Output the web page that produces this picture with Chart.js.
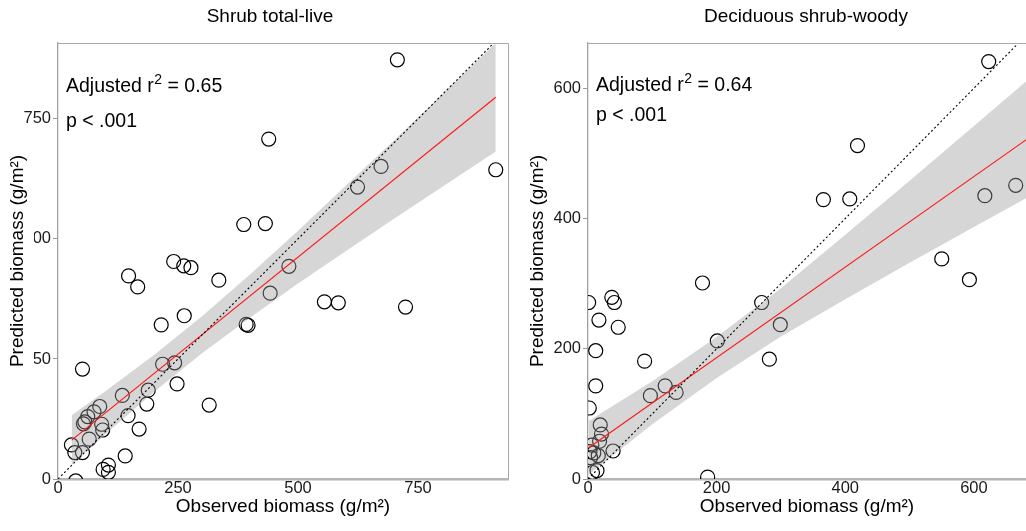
<!DOCTYPE html>
<html><head><meta charset="utf-8">
<script src="https://cdn.jsdelivr.net/npm/chart.js@4.4.1/dist/chart.umd.min.js"></script>
<style>
html,body{margin:0;padding:0;background:#fff;overflow:hidden;width:1026px;height:531px;}
#w1{position:absolute;left:0;top:0;width:520px;height:531px;}
#w2{position:absolute;left:520px;top:0;width:520px;height:531px;}
canvas{display:block;}
</style></head><body>
<div id="w1"><canvas id="c1" width="520" height="531"></canvas></div>
<div id="w2"><canvas id="c2" width="520" height="531"></canvas></div>
<script>
// ---------- Panel 1: Shrub total-live ----------
const shrubTitle = 'Shrub total-live';
const shrubObserved = [707,439,673,624,912,387,432,481,442,555,584,724,392,396,241,262,277,335,147,166,263,215,218,243,248,188,185,315,134,146,169,140,51,87,75,62,56,53,91,93,65,28,35,51,94,105,105,37];
const shrubPredicted = [873,708,651,608,644,530,532,443,387,369,367,358,322,320,453,444,440,414,423,400,340,321,239,242,198,185,156,154,174,132,104,48,229,151,140,130,119,115,114,102,83,71,55,55,20,29,14,-4];
const shrubFitX = [28.5, 912];
const shrubFitY = [81, 795];
const shrubBandX = [28.5, 100, 200, 300, 400, 500, 600, 700, 800, 912];
const shrubBandLower = [29, 94, 181, 262, 336, 407, 475, 542, 608, 682];
const shrubBandUpper = [133, 184, 258, 339, 426, 517, 611, 705, 801, 908];
const shrubXTicks = [0, 250, 500, 750];
const shrubYTicks = [0, 250, 500, 750];
const shrubR2 = '0.65';

// ---------- Panel 2: Deciduous shrub-woody ----------
const decidTitle = 'Deciduous shrub-woody';
const decidObserved = [623,419,366,407,617,665,550,593,178,270,299,282,1,37,41,17,47,12,88,201,12,2,120,97,137,19,21,18,6,3,9,16,4,39,14,7,186];
const decidPredicted = [641,512,429,430,435,451,338,306,301,271,237,184,271,279,271,244,233,197,181,212,143,109,143,128,133,83,69,58,52,42,40,36,33,43,13,10,3];
const decidFitX = [1, 690];
const decidFitY = [48, 527];
const decidBandX = [1, 100, 200, 300, 400, 500, 600, 690];
const decidBandLower = [7, 84, 155, 219, 276, 332, 387, 436];
const decidBandUpper = [89, 150, 218, 293, 375, 458, 542, 618];
const decidXTicks = [0, 200, 400, 600];
const decidYTicks = [0, 200, 400, 600];
const decidR2 = '0.64';

const oneToOne = [0, 1000];
const pText = 'p < .001';
const xTitle = 'Observed biomass (g/m²)';
const yTitle = 'Predicted biomass (g/m²)';

const FONT = "'Liberation Sans', Arial, Helvetica, sans-serif";
Chart.defaults.font.family = FONT;

const pts = (xs, ys) => xs.map((x, i) => ({x: x, y: ys[i]}));

const panelBorder = {
  id: 'panelBorder',
  afterDraw(chart) {
    const a = chart.chartArea, ctx = chart.ctx;
    ctx.save();
    ctx.strokeStyle = '#a8a8a8'; ctx.lineWidth = 1;
    ctx.beginPath();
    ctx.moveTo(a.left, a.top + 0.5); ctx.lineTo(a.right + 0.5, a.top + 0.5); ctx.lineTo(a.right + 0.5, a.bottom);
    ctx.stroke();
    ctx.restore();
  }
};

const panelTitle = {
  id: 'panelTitle',
  afterDraw(chart, args, o) {
    const ctx = chart.ctx, a = chart.chartArea;
    ctx.save();
    ctx.font = o.size + 'px ' + FONT;
    ctx.fillStyle = '#000'; ctx.textAlign = 'center'; ctx.textBaseline = 'alphabetic';
    ctx.fillText(o.text, (a.left + a.right) / 2 + o.dx, o.baseline);
    ctx.restore();
  }
};

const yTitleBox = {
  id: 'yTitleBox',
  afterDraw(chart, args, o) {
    const ctx = chart.ctx, a = chart.chartArea;
    const cy = (a.top + a.bottom) / 2;
    ctx.save();
    ctx.font = o.size + 'px ' + FONT;
    const w = ctx.measureText(o.text).width;
    ctx.fillStyle = '#fff';
    ctx.fillRect(0, cy - w / 2 - 3, o.boxRight, w + 6);
    ctx.translate(o.x, cy);
    ctx.rotate(-Math.PI / 2);
    ctx.fillStyle = '#000'; ctx.textAlign = 'center'; ctx.textBaseline = 'middle';
    ctx.fillText(o.text, 0, 0);
    ctx.restore();
  }
};

const annot = {
  id: 'annot',
  afterDraw(chart, args, o) {
    const ctx = chart.ctx, xs = chart.scales.x, ys = chart.scales.y;
    const x = xs.getPixelForValue(o.x);
    const y1 = ys.getPixelForValue(o.y1), y2 = ys.getPixelForValue(o.y2);
    const big = o.size + 'px ' + FONT, small = o.supSize + 'px ' + FONT;
    ctx.save();
    ctx.fillStyle = '#000'; ctx.textAlign = 'left'; ctx.textBaseline = 'alphabetic';
    ctx.font = big; ctx.fillText(o.pre, x, y1);
    let cx = x + ctx.measureText(o.pre).width + 0.5;
    ctx.font = small; ctx.fillText(o.sup, cx, y1 - o.supRise);
    cx += ctx.measureText(o.sup).width;
    ctx.font = big; ctx.fillText(o.post, cx, y1);
    ctx.fillText(o.line2, x, y2);
    ctx.restore();
  }
};

function makeChart(id, cfg) {
  const datasets = [
    { data: pts(cfg.obs, cfg.pred), pointRadius: 7, pointHoverRadius: 7, pointBorderWidth: 1.2,
      pointBorderColor: '#000', pointBackgroundColor: 'rgba(0,0,0,0)', showLine: false, order: 5, clip: 0 },
    { type: 'line', data: pts(cfg.bandX, cfg.bandLo), pointRadius: 0, borderColor: 'rgba(0,0,0,0)', borderWidth: 0,
      fill: false, tension: 0, order: 4, clip: 0 },
    { type: 'line', data: pts(cfg.bandX, cfg.bandHi), pointRadius: 0, borderColor: 'rgba(0,0,0,0)', borderWidth: 0,
      fill: '-1', backgroundColor: 'rgba(153,153,153,0.4)', tension: 0, order: 3, clip: 0 },
    { type: 'line', data: pts(cfg.fitX, cfg.fitY), pointRadius: 0, borderColor: '#ff1a1a', borderWidth: 1.2,
      fill: false, tension: 0, order: 2, clip: 0 },
    { type: 'line', data: pts(oneToOne, oneToOne), pointRadius: 0, borderColor: '#000', borderWidth: 1.1,
      borderDash: [2, 2.4], fill: false, tension: 0, order: 1, clip: 0 }
  ];
  return new Chart(document.getElementById(id), {
    type: 'scatter',
    data: { datasets },
    plugins: [panelBorder, panelTitle, yTitleBox, annot],
    options: {
      responsive: false, animation: false, events: [],
      layout: { padding: { left: 0, right: cfg.padRight, top: 43, bottom: 0 } },
      plugins: {
        legend: { display: false }, tooltip: { enabled: false },
        title: { display: false },
        panelTitle: { text: cfg.title, size: 19, dx: cfg.titleDx, baseline: 21.5 },
        yTitleBox: { text: yTitle, size: 19, x: 18, boxRight: 34 },
        annot: { x: cfg.annX, y1: cfg.annY1, y2: cfg.annY2, size: 19.5, supSize: 14, supRise: 8,
                 pre: 'Adjusted r', sup: '2', post: ' = ' + cfg.r2, line2: pText }
      },
      scales: {
        x: { type: 'linear', min: 0, max: cfg.xMax,
             afterBuildTicks: s => { s.ticks = cfg.xTicks.map(v => ({ value: v })); },
             afterFit: s => { s.height = 52; },
             grid: { drawOnChartArea: false, drawTicks: true, tickLength: 4, color: '#9a9a9a', lineWidth: 1 },
             border: { display: true, color: '#b5b5b5', width: 2.5 },
             ticks: { color: '#1a1a1a', font: { size: 16.5 }, padding: -4, maxRotation: 0, autoSkip: false },
             title: { display: true, text: xTitle, color: '#000', font: { size: 19 }, padding: { top: 0, bottom: 12.6 } } },
        y: { type: 'linear', min: 0, max: cfg.yMax,
             afterBuildTicks: s => { s.ticks = cfg.yTicks.map(v => ({ value: v })); },
             afterFit: s => { s.width = cfg.yWidth; },
             grid: { drawOnChartArea: false, drawTicks: true, tickLength: 5, color: '#9a9a9a', lineWidth: 1 },
             border: { display: true, color: '#a0a0a0', width: 1.3 },
             ticks: { color: '#1a1a1a', font: { size: 16.5 }, padding: 2, autoSkip: false },
             title: { display: false } }
      }
    }
  });
}

makeChart('c1', {
  title: shrubTitle, titleDx: -13, obs: shrubObserved, pred: shrubPredicted,
  fitX: shrubFitX, fitY: shrubFitY, bandX: shrubBandX, bandLo: shrubBandLower, bandHi: shrubBandUpper,
  xTicks: shrubXTicks, yTicks: shrubYTicks, xMax: 937.5, yMax: 908, yWidth: 58, padRight: 12,
  r2: shrubR2, annX: 16.7, annY1: 806, annY2: 733
});
makeChart('c2', {
  title: decidTitle, titleDx: -1, obs: decidObserved, pred: decidPredicted,
  fitX: decidFitX, fitY: decidFitY, bandX: decidBandX, bandLo: decidBandLower, bandHi: decidBandUpper,
  xTicks: decidXTicks, yTicks: decidYTicks, xMax: 681, yMax: 669.5, yWidth: 68, padRight: 14,
  r2: decidR2, annX: 12.4, annY1: 596, annY2: 549
});
</script>
</body></html>
